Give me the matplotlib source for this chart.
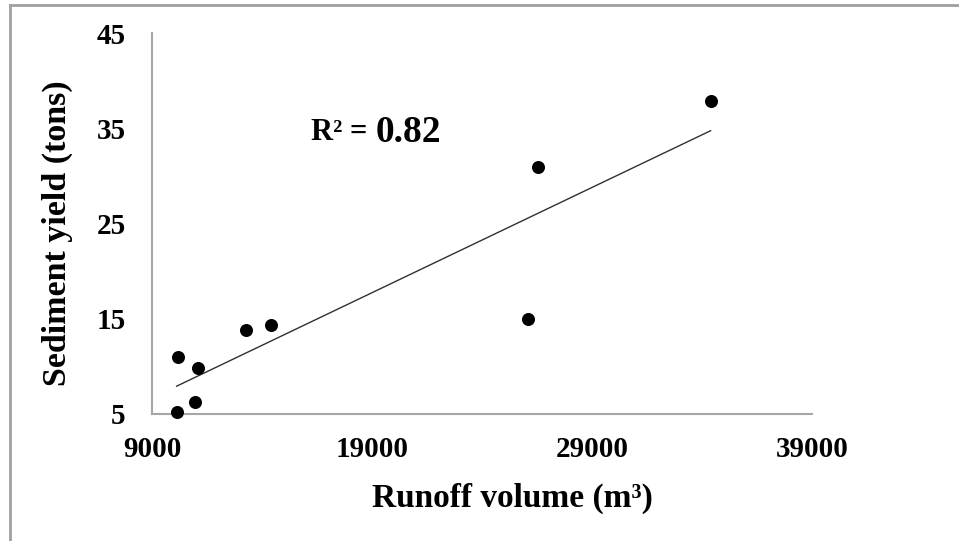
import matplotlib.pyplot as plt
import numpy as np
from matplotlib.lines import Line2D

# runoff volume (m3) vs sediment yield (tons)
runoff = [10170, 11100, 10120, 10950, 13270, 14400, 26560, 26100, 34400]
sediment = [11.0, 9.8, 5.2, 6.3, 13.8, 14.3, 30.9, 15.0, 37.9]

x_ticks = [9000, 19000, 29000, 39000]
y_ticks = [5, 15, 25, 35, 45]
r2_value = "0.82"

plt.rcParams["font.family"] = ["Liberation Serif", "DejaVu Serif"]
plt.rcParams["font.weight"] = "bold"

fig = plt.figure(figsize=(9.59, 5.41), dpi=100)
ax = fig.add_axes([0.1585, 0.2348, 0.688, 0.704])

x = np.array(runoff, dtype=float)
y = np.array(sediment, dtype=float)

ax.scatter(x, y, s=88, color="black", zorder=3, linewidths=0, clip_on=False)

# linear trendline over the data range
slope, intercept = np.polyfit(x, y, 1)
xs = np.array([x.min(), x.max()])
ax.plot(xs, slope * xs + intercept, color="#303030", linewidth=1.0)

ax.set_xlim(9000, 39000)
ax.set_ylim(5, 45)
ax.set_xticks(x_ticks)
ax.set_yticks(y_ticks)
ax.tick_params(axis="both", length=0, labelsize=21)
ax.tick_params(axis="x", pad=16)
ax.tick_params(axis="y", pad=19)
for lab in ax.get_xticklabels() + ax.get_yticklabels():
    lab.set_fontweight("bold")

for side in ["top", "right"]:
    ax.spines[side].set_visible(False)
for side in ["left", "bottom"]:
    ax.spines[side].set_color("#A6A6A6")
    ax.spines[side].set_linewidth(1.5)

ax.set_xlabel("Runoff volume (m\u00b3)", fontsize=24, fontweight="bold")
ax.set_ylabel("Sediment yield (tons)", fontsize=24.5, fontweight="bold")
ax.xaxis.set_label_coords(0.547, -0.18)
ax.yaxis.set_label_coords(-0.12, 0.475)

ax.text(19150, 34.6, "R\u00b2 = ", fontsize=22, fontweight="bold",
        ha="right", va="center")
ax.text(19150, 34.6, r2_value, fontsize=27, fontweight="bold",
        ha="left", va="center")

# frame lines around the picture (top and left only)
fig.add_artist(Line2D([10 / 959, 1.0], [1 - 5 / 541, 1 - 5 / 541],
                      color="#A0A0A0", linewidth=2))
fig.add_artist(Line2D([10 / 959, 10 / 959], [0.0, 1 - 5 / 541],
                      color="#A0A0A0", linewidth=2))

fig.savefig("out.png", dpi=100, facecolor="white")
